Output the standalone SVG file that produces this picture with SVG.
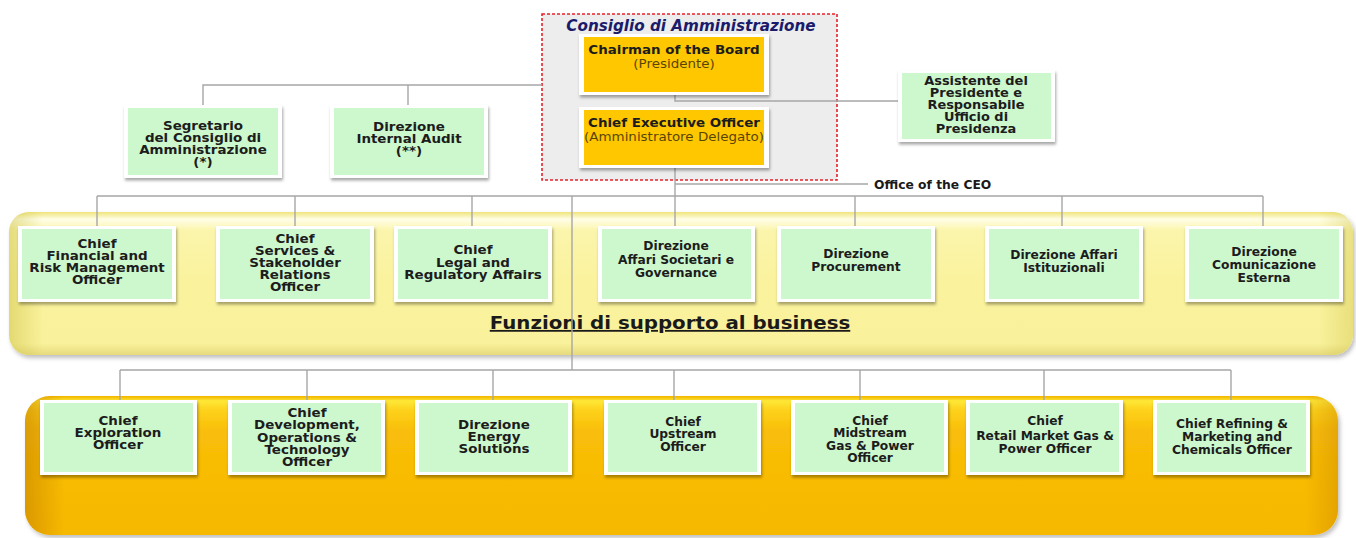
<svg xmlns="http://www.w3.org/2000/svg" width="1356" height="538" viewBox="0 0 1356 538">
<style>
.v{font-family:"DejaVu Sans",Verdana,sans-serif;font-weight:bold;font-size:12px;fill:#1c1c1c;text-anchor:middle}
.t{font-family:"DejaVu Sans",Verdana,sans-serif;font-weight:bold;font-size:12.5px;fill:#1c1c1c;text-anchor:middle}
.sub{font-family:"DejaVu Sans",Verdana,sans-serif;font-weight:normal;font-size:12px;fill:#5a4500;text-anchor:middle}
.out{fill:#ffffff;filter:url(#sh)}
.grn{fill:#cdf7cd}
.gld{fill:#fec700}
.ln{fill:none;stroke:#a6a6a6;stroke-width:1.4}
</style>
<defs>
<filter id="sh" x="-10%" y="-10%" width="120%" height="130%">
<feDropShadow dx="1" dy="2.5" stdDeviation="1.4" flood-color="#000" flood-opacity="0.35"/>
</filter>
<filter id="bsh" x="-5%" y="-10%" width="110%" height="125%">
<feDropShadow dx="2" dy="3" stdDeviation="2" flood-color="#000" flood-opacity="0.25"/>
</filter>
<linearGradient id="yg" x1="0" y1="0" x2="0" y2="1">
<stop offset="0" stop-color="#efe47a"/>
<stop offset="0.05" stop-color="#fffee6"/>
<stop offset="0.13" stop-color="#fbf5ac"/>
<stop offset="0.5" stop-color="#faf29c"/>
<stop offset="0.92" stop-color="#f9f19b"/>
<stop offset="1" stop-color="#e6da7c"/>
</linearGradient>
<linearGradient id="yl" x1="0" y1="0" x2="1" y2="0">
<stop offset="0" stop-color="#c8bc40" stop-opacity="0.45"/>
<stop offset="0.025" stop-color="#c8bc40" stop-opacity="0"/>
<stop offset="0.975" stop-color="#c8bc40" stop-opacity="0"/>
<stop offset="1" stop-color="#c8bc40" stop-opacity="0.35"/>
</linearGradient>
<linearGradient id="og" x1="0" y1="0" x2="0" y2="1">
<stop offset="0" stop-color="#f2b400"/>
<stop offset="0.035" stop-color="#ffe838"/>
<stop offset="0.1" stop-color="#fdd21c"/>
<stop offset="0.25" stop-color="#f9be08"/>
<stop offset="1" stop-color="#f7b800"/>
</linearGradient>
<linearGradient id="ol" x1="0" y1="0" x2="1" y2="0">
<stop offset="0" stop-color="#c88400" stop-opacity="0.6"/>
<stop offset="0.03" stop-color="#c88400" stop-opacity="0"/>
<stop offset="0.975" stop-color="#c88400" stop-opacity="0"/>
<stop offset="1" stop-color="#c88400" stop-opacity="0.4"/>
</linearGradient>
</defs>
<rect width="1356" height="538" fill="#ffffff"/>

<g id="band-support">
<rect x="9" y="212" width="1344" height="143" rx="20" fill="url(#yg)" filter="url(#bsh)"/>
<rect x="9" y="212" width="1344" height="143" rx="20" fill="url(#yl)"/>
<text x="670" y="329" transform="translate(670 0) scale(1.1 1) translate(-670 0)" style="font-family:'DejaVu Sans',Verdana,sans-serif;font-weight:bold;font-size:18px;fill:#1a1a1a;text-anchor:middle;text-decoration:underline">Funzioni di supporto al business</text>
</g>
<g id="band-business">
<rect x="25" y="396" width="1313" height="139" rx="25" fill="url(#og)" filter="url(#bsh)"/>
<rect x="25" y="396" width="1313" height="139" rx="25" fill="url(#ol)"/>
</g>

<g id="board">
<rect x="542" y="14" width="295" height="166" fill="#ededed" stroke="#e8202a" stroke-width="1.6" stroke-dasharray="3 2"/>
<text x="691" y="31" style="font-family:'DejaVu Sans',Verdana,sans-serif;font-weight:bold;font-style:italic;font-size:15.2px;fill:#1b1b6b;text-anchor:middle">Consiglio di Amministrazione</text>
</g>

<g id="connectors">
<polyline class="ln" points="542,85 203,85 203,105"/>
<line class="ln" x1="408" y1="85" x2="408" y2="105"/>
<polyline class="ln" points="675,95 675,101 898,101"/>
<line class="ln" x1="675" y1="168" x2="675" y2="226"/>
<line class="ln" x1="675" y1="184" x2="868" y2="184"/>
<line class="ln" x1="97" y1="196" x2="1263" y2="196"/>
<line class="ln" x1="97" y1="196" x2="97" y2="226"/>
<line class="ln" x1="295" y1="196" x2="295" y2="226"/>
<line class="ln" x1="472" y1="196" x2="472" y2="226"/>
<line class="ln" x1="855" y1="196" x2="855" y2="226"/>
<line class="ln" x1="1062" y1="196" x2="1062" y2="226"/>
<line class="ln" x1="1263" y1="196" x2="1263" y2="226"/>
<line class="ln" x1="572" y1="196" x2="572" y2="370"/>
<line class="ln" x1="120" y1="370" x2="1231" y2="370"/>
<line class="ln" x1="120" y1="370" x2="120" y2="400"/>
<line class="ln" x1="307" y1="370" x2="307" y2="400"/>
<line class="ln" x1="493" y1="370" x2="493" y2="400"/>
<line class="ln" x1="674" y1="370" x2="674" y2="400"/>
<line class="ln" x1="860" y1="370" x2="860" y2="400"/>
<line class="ln" x1="1044" y1="370" x2="1044" y2="400"/>
<line class="ln" x1="1231" y1="370" x2="1231" y2="400"/>
<text x="874" y="189" style="font-family:'DejaVu Sans',Verdana,sans-serif;font-weight:bold;font-size:12.3px;fill:#1a1a1a">Office of the CEO</text>
</g>

<g id="chairman">
<rect class="out" x="579" y="34" width="190" height="61"/>
<rect class="gld" x="584" y="37" width="180" height="55"/>
<text class="v" transform="translate(674 0) scale(1.12 1)"><tspan x="0" y="54">Chairman of the Board</tspan></text>
<text class="sub" transform="translate(674 0) scale(1.12 1)"><tspan x="0" y="68">(Presidente)</tspan></text>
</g>
<g id="ceo">
<rect class="out" x="579" y="107" width="190" height="61"/>
<rect class="gld" x="584" y="110" width="180" height="55"/>
<text class="v" transform="translate(674 0) scale(1.12 1)"><tspan x="0" y="127">Chief Executive Officer</tspan></text>
<text class="sub" transform="translate(674 0) scale(1.12 1)"><tspan x="0" y="141">(Amministratore Delegato)</tspan></text>
</g>

<g id="segretario">
<rect class="out" x="124" y="105" width="158" height="73"/>
<rect class="grn" x="128" y="108" width="150" height="67"/>
<text class="v" transform="translate(203 0) scale(1.12 1)"><tspan x="0" y="130">Segretario</tspan><tspan x="0" y="142">del Consiglio di</tspan><tspan x="0" y="154">Amministrazione</tspan><tspan x="0" y="166">(*)</tspan></text>
</g>
<g id="internal-audit">
<rect class="out" x="330" y="105" width="158" height="73"/>
<rect class="grn" x="334" y="108" width="150" height="67"/>
<text class="v" transform="translate(409 0) scale(1.12 1)"><tspan x="0" y="131">Direzione</tspan><tspan x="0" y="143">Internal Audit</tspan><tspan x="0" y="155">(**)</tspan></text>
</g>
<g id="assistente">
<rect class="out" x="898" y="70" width="157" height="72"/>
<rect class="grn" x="902" y="73" width="149" height="66"/>
<text class="v" transform="translate(976 0) scale(1.08 1)"><tspan x="0" y="85">Assistente del</tspan><tspan x="0" y="97">Presidente e</tspan><tspan x="0" y="109">Responsabile</tspan><tspan x="0" y="121">Ufficio di</tspan><tspan x="0" y="133">Presidenza</tspan></text>
</g>

<g id="cfo">
<rect class="out" x="18" y="226" width="158" height="76"/>
<rect class="grn" x="22" y="229" width="150" height="70"/>
<text class="v" transform="translate(97 0) scale(1.12 1)"><tspan x="0" y="248.5">Chief</tspan><tspan x="0" y="260.5">Financial and</tspan><tspan x="0" y="272.5">Risk Management</tspan><tspan x="0" y="284.5">Officer</tspan></text>
</g>
<g id="services">
<rect class="out" x="216" y="226" width="158" height="76"/>
<rect class="grn" x="220" y="229" width="150" height="70"/>
<text class="v" transform="translate(295 0) scale(1.12 1)"><tspan x="0" y="243">Chief</tspan><tspan x="0" y="255">Services &amp;</tspan><tspan x="0" y="267">Stakeholder</tspan><tspan x="0" y="279">Relations</tspan><tspan x="0" y="291">Officer</tspan></text>
</g>
<g id="legal">
<rect class="out" x="394" y="226" width="158" height="76"/>
<rect class="grn" x="398" y="229" width="150" height="70"/>
<text class="v" transform="translate(473 0) scale(1.12 1)"><tspan x="0" y="254.5">Chief</tspan><tspan x="0" y="267">Legal and</tspan><tspan x="0" y="279.5">Regulatory Affairs</tspan></text>
</g>
<g id="affari-societari">
<rect class="out" x="598" y="226" width="157" height="76"/>
<rect class="grn" x="602" y="229" width="149" height="70"/>
<text class="t" transform="translate(676 0) scale(0.98 1)"><tspan x="0" y="250">Direzione</tspan><tspan x="0" y="264">Affari Societari e</tspan><tspan x="0" y="277">Governance</tspan></text>
</g>
<g id="procurement">
<rect class="out" x="777" y="226" width="158" height="76"/>
<rect class="grn" x="781" y="229" width="150" height="70"/>
<text class="t" transform="translate(856 0) scale(0.98 1)"><tspan x="0" y="258">Direzione</tspan><tspan x="0" y="271">Procurement</tspan></text>
</g>
<g id="affari-istituzionali">
<rect class="out" x="985" y="226" width="158" height="76"/>
<rect class="grn" x="989" y="229" width="150" height="70"/>
<text class="t" transform="translate(1064 0) scale(0.98 1)"><tspan x="0" y="259">Direzione Affari</tspan><tspan x="0" y="272">Istituzionali</tspan></text>
</g>
<g id="comunicazione">
<rect class="out" x="1185" y="226" width="158" height="76"/>
<rect class="grn" x="1189" y="229" width="150" height="70"/>
<text class="t" transform="translate(1264 0) scale(0.98 1)"><tspan x="0" y="256">Direzione</tspan><tspan x="0" y="269">Comunicazione</tspan><tspan x="0" y="282">Esterna</tspan></text>
</g>

<g id="exploration">
<rect class="out" x="40" y="400" width="157" height="75"/>
<rect class="grn" x="44" y="403" width="149" height="69"/>
<text class="v" transform="translate(118 0) scale(1.12 1)"><tspan x="0" y="425.5">Chief</tspan><tspan x="0" y="437.5">Exploration</tspan><tspan x="0" y="449.5">Officer</tspan></text>
</g>
<g id="development">
<rect class="out" x="228" y="400" width="157" height="75"/>
<rect class="grn" x="232" y="403" width="149" height="69"/>
<text class="v" transform="translate(307 0) scale(1.12 1)"><tspan x="0" y="417.5">Chief</tspan><tspan x="0" y="429.5">Development,</tspan><tspan x="0" y="442">Operations &amp;</tspan><tspan x="0" y="454.5">Technology</tspan><tspan x="0" y="466.5">Officer</tspan></text>
</g>
<g id="energy-solutions">
<rect class="out" x="415" y="400" width="157" height="75"/>
<rect class="grn" x="419" y="403" width="149" height="69"/>
<text class="v" transform="translate(494 0) scale(1.12 1)"><tspan x="0" y="429.5">Direzione</tspan><tspan x="0" y="441.5">Energy</tspan><tspan x="0" y="453.5">Solutions</tspan></text>
</g>
<g id="upstream">
<rect class="out" x="604" y="400" width="157" height="75"/>
<rect class="grn" x="608" y="403" width="149" height="69"/>
<text class="t" transform="translate(683 0) scale(0.98 1)"><tspan x="0" y="426">Chief</tspan><tspan x="0" y="438.5">Upstream</tspan><tspan x="0" y="451">Officer</tspan></text>
</g>
<g id="midstream">
<rect class="out" x="791" y="400" width="157" height="75"/>
<rect class="grn" x="795" y="403" width="149" height="69"/>
<text class="t" transform="translate(870 0) scale(0.98 1)"><tspan x="0" y="425">Chief</tspan><tspan x="0" y="437.5">Midstream</tspan><tspan x="0" y="450">Gas &amp; Power</tspan><tspan x="0" y="462.5">Officer</tspan></text>
</g>
<g id="retail">
<rect class="out" x="966" y="400" width="157" height="75"/>
<rect class="grn" x="970" y="403" width="149" height="69"/>
<text class="t" transform="translate(1045 0) scale(0.98 1)"><tspan x="0" y="425">Chief</tspan><tspan x="0" y="440">Retail Market Gas &amp;</tspan><tspan x="0" y="453">Power Officer</tspan></text>
</g>
<g id="refining">
<rect class="out" x="1153" y="400" width="157" height="75"/>
<rect class="grn" x="1157" y="403" width="149" height="69"/>
<text class="t" transform="translate(1232 0) scale(0.98 1)"><tspan x="0" y="428">Chief Refining &amp;</tspan><tspan x="0" y="441">Marketing and</tspan><tspan x="0" y="454">Chemicals Officer</tspan></text>
</g>
</svg>
